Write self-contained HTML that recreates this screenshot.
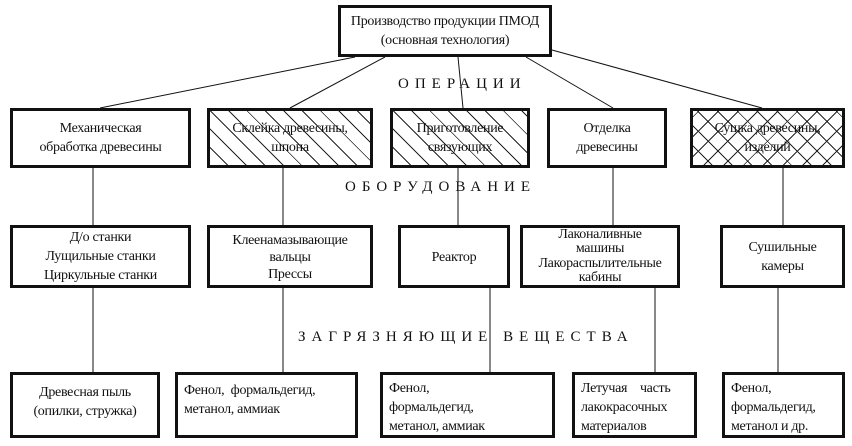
<!DOCTYPE html>
<html><head><meta charset="utf-8"><style>
body{margin:0;background:#fff;width:852px;height:446px;overflow:hidden;position:relative;font-family:"Liberation Serif","Noto Serif CJK SC",serif;color:#111}
.b{position:absolute;border:3px solid #111;box-sizing:border-box;background:#fff;display:flex;align-items:center;justify-content:center;text-align:center;font-size:14px;line-height:19px;letter-spacing:-0.3px}
.l{justify-content:flex-start;align-items:flex-start;text-align:left;padding:6px 6px}
.h1{background:repeating-linear-gradient(45deg,#fff 0 12px,#222 12px 13px)}
.h2{background:repeating-linear-gradient(45deg,transparent 0 13px,#222 13px 14px),repeating-linear-gradient(-45deg,#fff 0 13px,#222 13px 14px)}
.t{position:absolute;font-size:15px;letter-spacing:6px;white-space:nowrap}
svg{position:absolute;left:0;top:0}
</style></head><body>
<svg width="852" height="446" stroke="#111" stroke-width="1">
<line x1="355" y1="57" x2="100" y2="108"/>
<line x1="385" y1="57" x2="290" y2="108"/>
<line x1="458" y1="57" x2="463" y2="108"/>
<line x1="526" y1="57" x2="613" y2="108"/>
<line x1="552" y1="50" x2="762" y2="108"/>
<line x1="93" y1="168" x2="93" y2="225"/>
<line x1="283" y1="168" x2="283" y2="225"/>
<line x1="458" y1="168" x2="458" y2="225"/>
<line x1="613" y1="168" x2="613" y2="225"/>
<line x1="783" y1="168" x2="783" y2="225"/>
<line x1="93" y1="288" x2="93" y2="372"/>
<line x1="283" y1="288" x2="283" y2="372"/>
<line x1="490" y1="288" x2="490" y2="372"/>
<line x1="655" y1="288" x2="655" y2="372"/>
<line x1="778" y1="288" x2="778" y2="372"/>
</svg>
<div class="b" style="left:338px;top:5px;width:214px;height:52px">Производство продукции ПМОД<br>(основная технология)</div>
<div class="t" style="left:398px;top:76px">ОПЕРАЦИИ</div>
<div class="b" style="left:10px;top:108px;width:181px;height:60px">Механическая<br>обработка древесины</div>
<div class="b h1" style="left:207px;top:108px;width:166px;height:60px">Склейка древесины,<br>шпона</div>
<div class="b h1" style="left:390px;top:108px;width:140px;height:60px">Приготовление<br>связующих</div>
<div class="b" style="left:547px;top:108px;width:120px;height:60px">Отделка<br>древесины</div>
<div class="b h2" style="left:690px;top:108px;width:155px;height:60px">Сушка древесины,<br>изделий</div>
<div class="t" style="left:345px;top:179px">ОБОРУДОВАНИЕ</div>
<div class="b" style="left:10px;top:225px;width:181px;height:63px">Д/о станки<br>Лущильные станки<br>Циркульные станки</div>
<div class="b" style="left:207px;top:225px;width:166px;height:63px;align-items:flex-start;padding-top:4px;line-height:17px">Клеенамазывающие<br>вальцы<br>Прессы</div>
<div class="b" style="left:398px;top:225px;width:112px;height:63px;align-items:flex-start;padding-top:20px">Реактор</div>
<div class="b" style="left:520px;top:225px;width:160px;height:63px;line-height:14.5px">Лаконаливные<br>машины<br>Лакораспылительные<br>кабины</div>
<div class="b" style="left:720px;top:225px;width:125px;height:63px">Сушильные<br>камеры</div>
<div class="t" style="left:298px;top:329px">ЗАГРЯЗНЯЮЩИЕ ВЕЩЕСТВА</div>
<div class="b" style="left:10px;top:372px;width:150px;height:66px;align-items:flex-start;padding-top:8px">Древесная пыль<br>(опилки, стружка)</div>
<div class="b l" style="left:175px;top:372px;width:183px;height:66px">Фенол,&nbsp; формальдегид,<br>метанол, аммиак</div>
<div class="b l" style="left:380px;top:372px;width:175px;height:66px;padding-top:4px">Фенол,<br>формальдегид,<br>метанол, аммиак</div>
<div class="b l" style="left:572px;top:372px;width:125px;height:66px;padding-top:4px">Летучая&nbsp;&nbsp;&nbsp; часть<br>лакокрасочных<br>материалов</div>
<div class="b l" style="left:722px;top:372px;width:123px;height:66px;padding-top:4px">Фенол,<br>формальдегид,<br>метанол и др.</div>
</body></html>
